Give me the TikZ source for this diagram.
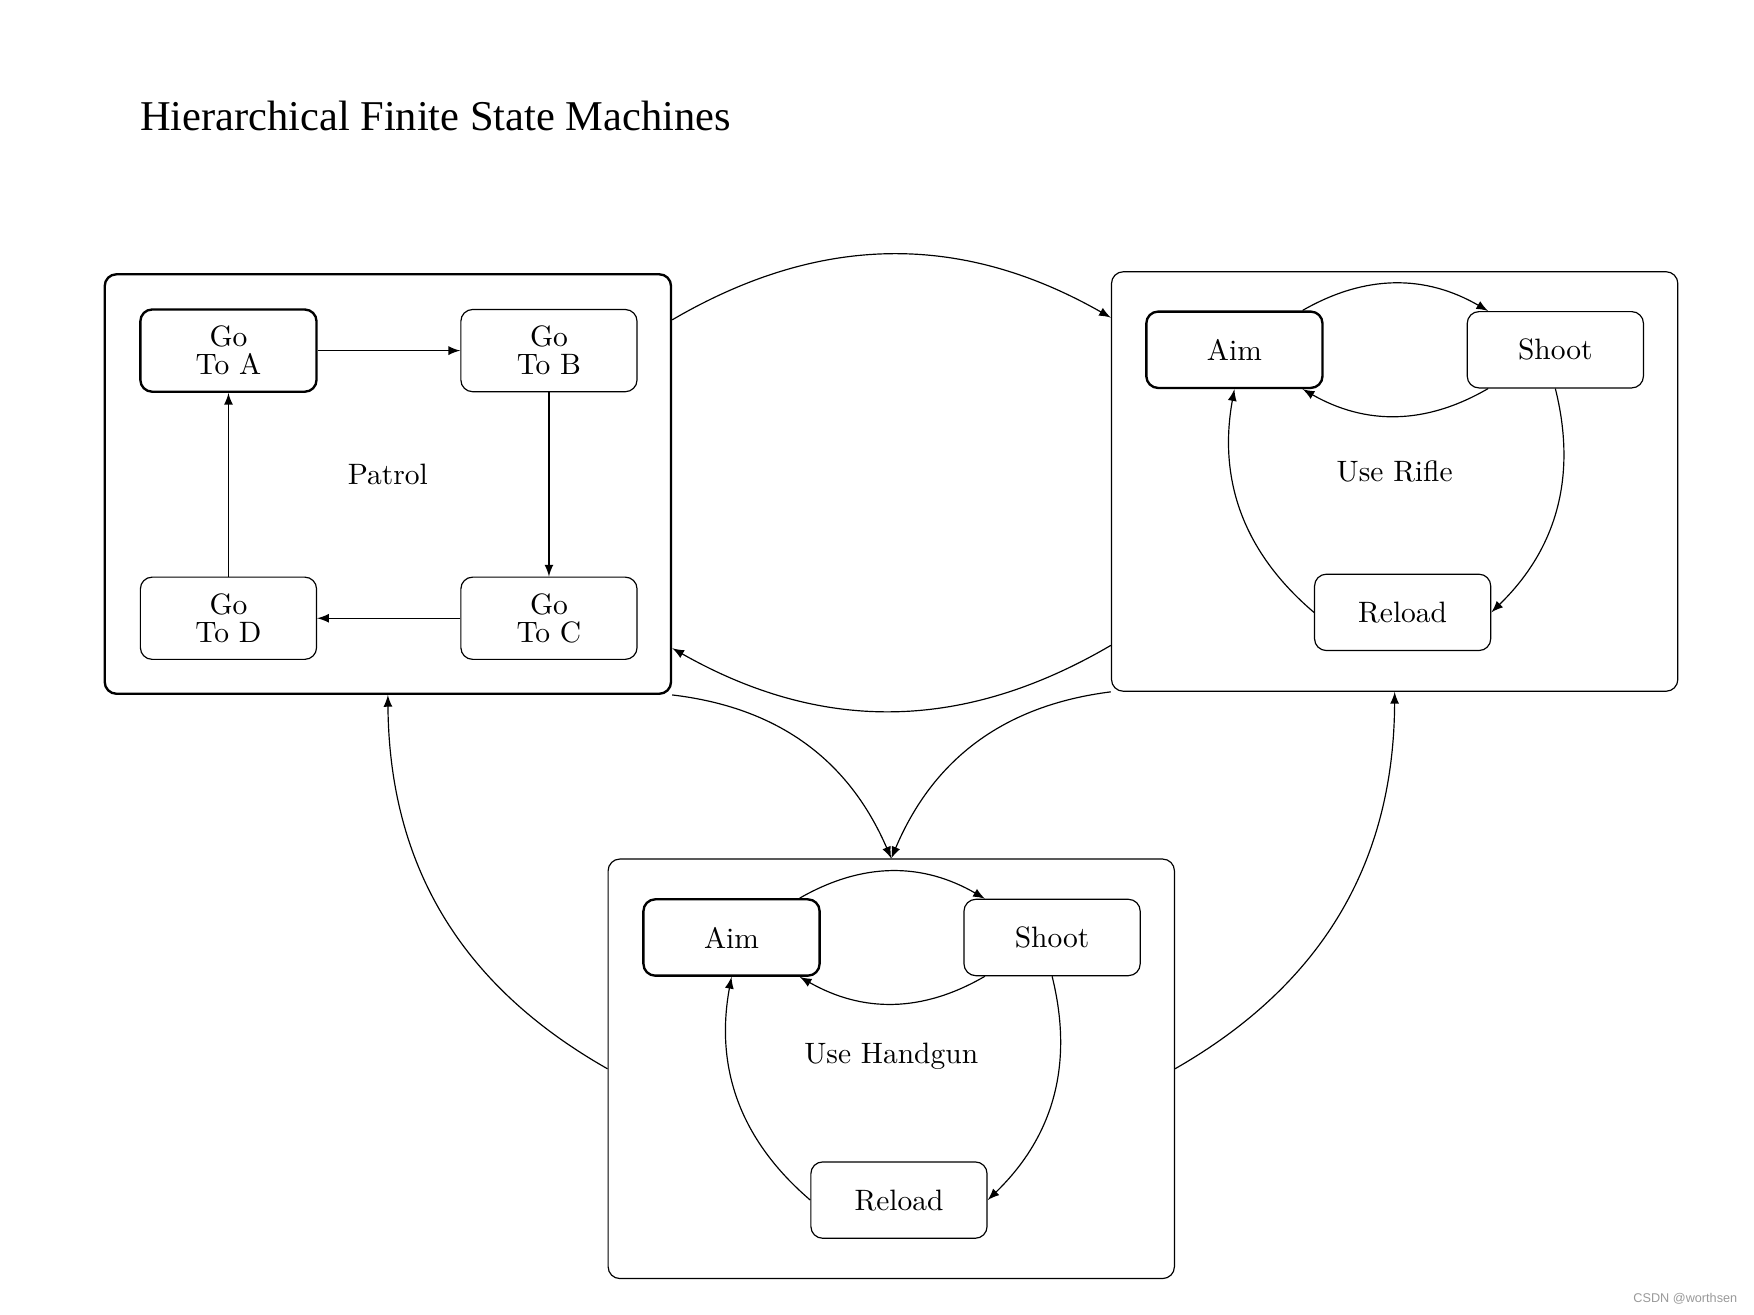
\documentclass[tikz,border=0pt]{standalone}
\usepackage{fontspec}
\newfontfamily\titlefont{Liberation Serif}
\newfontfamily\markfont{Liberation Sans}
\begin{document}
\begin{tikzpicture}[
        machine/.style={draw, rounded corners, minimum width=6.75cm, minimum height=5cm, inner sep=0pt},
        state/.style={draw, rounded corners, minimum width=2.1cm, minimum height=0.91cm,
                      align=center, font=\fontsize{10}{9.5}\selectfont},
        gostate/.style={state, minimum height=0.98cm},
        >=latex]
                            % Page
                            \useasboundingbox (-4.623,-9.893) rectangle (16.283,5.769);

                            % Title
                            \node[anchor=base west, inner sep=0pt,
                                  font=\titlefont\fontsize{14.4}{17}\selectfont] (title)
                                  at (-2.96,4.21) {Hierarchical Finite State Machines};

                            % Patrol
                            \node[machine, thick] (patrol) at (0,0) {};
                            \node (patrollabel) at (0,0.11) {Patrol};
                            \node[gostate, thick] (goa) at (-1.9,1.59) {Go\\To A};
                            \node[gostate] (gob) at (1.92,1.59) {Go\\To B};
                            \node[gostate] (goc) at (1.92,-1.6) {Go\\To C};
                            \node[gostate] (god) at (-1.9,-1.6) {Go\\To D};
                            \draw[->] (goa) -- (gob);
                            \draw[->] (gob) -- (goc);
                            \draw[->] (goc) -- (god);
                            \draw[->] (god) -- (goa);

                            % Use Rifle
                            \node[machine] (rifle) at (12,0.03) {};
                            \node (riflelabel) at (12,0.15) {Use Rifle};
                            \node[state, thick] (raim) at (10.09,1.6) {Aim};
                            \node[state] (rshoot) at (13.915,1.6) {Shoot};
                            \node[state] (rreload) at (12.095,-1.53) {Reload};
                            \draw[->] (raim.30) to[bend left] (rshoot.150);
                            \draw[->] (rshoot.210) to[bend left] (raim.330);
                            \draw[->] (rshoot.south) to[bend left] (rreload.east);
                            \draw[->] (rreload.west) to[bend left] (raim.south);

                            % Use Handgun
                            \node[machine] (handgun) at (6,-6.97) {};
                            \node (handgunlabel) at (6,-6.823) {Use Handgun};
                            \node[state, thick] (haim) at (4.096,-5.405) {Aim};
                            \node[state] (hshoot) at (7.917,-5.405) {Shoot};
                            \node[state] (hreload) at (6.092,-8.535) {Reload};
                            \draw[->] (haim.30) to[bend left] (hshoot.150);
                            \draw[->] (hshoot.210) to[bend left] (haim.330);
                            \draw[->] (hshoot.south) to[bend left] (hreload.east);
                            \draw[->] (hreload.west) to[bend left] (haim.south);

                            % Transitions between machines
                            \draw[->] (patrol.30) to[bend left] (rifle.150);
                            \draw[->] (rifle.210) to[bend left] (patrol.330);
                            \draw[->] (patrol.south east) to[bend left] (handgun.north);
                            \draw[->] (rifle.south west) to[bend right] (handgun.north);
                            \draw[->] (handgun.west) to[bend left] (patrol.south);
                            \draw[->] (handgun.east) to[bend right] (rifle.south);

                            % Watermark
                            \node[anchor=base east, inner sep=0pt, text=black!40,
                                  font=\markfont\fontsize{4.3}{5}\selectfont] (mark)
                                  at (16.09,-9.75) {CSDN @worthsen};
\end{tikzpicture}
\end{document}
